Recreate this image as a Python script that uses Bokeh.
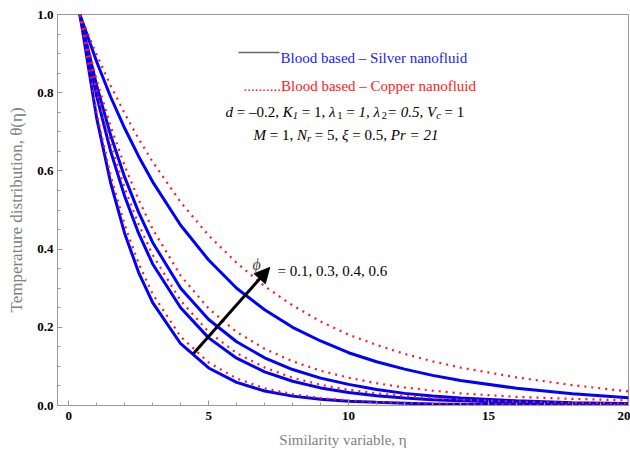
from bokeh.plotting import figure
from bokeh.models import (Range1d, SingleIntervalTicker, Label, Arrow,
                          NormalHead, PrintfTickFormatter)
from bokeh.embed import file_html
from bokeh.resources import INLINE

# ---------------- data ----------------
eta = [0.4, 1, 1.5, 2, 2.5, 3, 4, 5, 6, 7, 8, 9, 10, 11, 12, 13, 14, 16, 18, 20]

silver_phi_01 = [1.0, 0.735, 0.569, 0.440, 0.340, 0.263, 0.158, 0.096, 0.059, 0.037, 0.024, 0.016, 0.011, 0.008, 0.006, 0.004, 0.003, 0.002, 0.001, 0.001]
silver_phi_03 = [1.0, 0.791, 0.650, 0.535, 0.440, 0.362, 0.250, 0.173, 0.121, 0.086, 0.062, 0.045, 0.033, 0.025, 0.019, 0.015, 0.012, 0.008, 0.005, 0.003]
silver_phi_04 = [1.0, 0.818, 0.691, 0.584, 0.494, 0.417, 0.300, 0.220, 0.163, 0.122, 0.092, 0.070, 0.054, 0.041, 0.031, 0.024, 0.019, 0.012, 0.007, 0.005]
silver_phi_06 = [1.0, 0.879, 0.789, 0.709, 0.637, 0.572, 0.461, 0.372, 0.300, 0.245, 0.200, 0.165, 0.135, 0.112, 0.093, 0.077, 0.064, 0.044, 0.030, 0.020]

copper_phi_01 = [1.0, 0.748, 0.588, 0.462, 0.363, 0.285, 0.176, 0.110, 0.069, 0.044, 0.029, 0.019, 0.013, 0.009, 0.007, 0.005, 0.004, 0.002, 0.001, 0.001]
copper_phi_03 = [1.0, 0.802, 0.668, 0.556, 0.463, 0.385, 0.268, 0.188, 0.134, 0.097, 0.071, 0.053, 0.040, 0.031, 0.024, 0.019, 0.015, 0.010, 0.007, 0.005]
copper_phi_04 = [1.0, 0.832, 0.714, 0.613, 0.526, 0.451, 0.332, 0.248, 0.188, 0.145, 0.113, 0.089, 0.071, 0.057, 0.046, 0.038, 0.031, 0.022, 0.017, 0.013]
copper_phi_06 = [1.0, 0.897, 0.818, 0.747, 0.682, 0.623, 0.520, 0.435, 0.365, 0.305, 0.256, 0.215, 0.181, 0.155, 0.132, 0.113, 0.097, 0.072, 0.052, 0.036]

silver_series = [silver_phi_01, silver_phi_03, silver_phi_04, silver_phi_06]
copper_series = [copper_phi_01, copper_phi_03, copper_phi_04, copper_phi_06]

x_tick_interval = 5
y_tick_interval = 0.2

legend_silver = "Blood based \u2013 Silver nanofluid"
legend_copper = "..........Blood based \u2013 Copper nanofluid"
x_label = "Similarity variable, \u03b7"
y_label = "Temperature distribution, \u03b8(\u03b7)"

# arrow showing increasing phi (data units)
arrow_start = (4.46, 0.133)
arrow_end = (7.18, 0.353)

# ---------------- layout ----------------
FONT = "Liberation Serif"
W, H = 630, 453
FL, FR, FT, FB = 57, 628, 14, 405
X0, X1, Y0, Y1 = -0.4, 20.0, 0.0, 1.0


def at(px, py):
    """pixel position of the picture -> data coordinates"""
    return (X0 + (px - FL) * (X1 - X0) / (FR - FL),
            Y0 + (FB - py) * (Y1 - Y0) / (FB - FT))


p = figure(width=W, height=H, x_range=Range1d(X0, X1), y_range=Range1d(Y0, Y1),
           output_backend="svg", toolbar_location=None,
           min_border_left=FL, min_border_right=W - FR,
           min_border_top=FT, min_border_bottom=H - FB)
p.xgrid.visible = False
p.ygrid.visible = False
p.background_fill_color = "white"
p.border_fill_color = "white"
p.outline_line_color = "#9a9a9a"

GRAY = "#9a9a9a"
for ax in (p.xaxis[0], p.yaxis[0]):
    ax.axis_line_color = GRAY
    ax.major_tick_line_color = GRAY
    ax.minor_tick_line_color = GRAY
    ax.major_tick_in = 5
    ax.major_tick_out = 0
    ax.minor_tick_in = 3
    ax.minor_tick_out = 0
    ax.major_label_text_font = FONT
    ax.major_label_text_font_style = "bold"
    ax.major_label_text_font_size = "13px"
    ax.major_label_text_color = "black"
    ax.axis_label_text_font = FONT
    ax.axis_label_text_font_style = "normal"
    ax.axis_label_text_color = "#808080"

p.xaxis.ticker = SingleIntervalTicker(interval=x_tick_interval, num_minor_ticks=5)
p.yaxis.ticker = SingleIntervalTicker(interval=y_tick_interval, num_minor_ticks=4)
p.xaxis.formatter = PrintfTickFormatter(format="%d")
p.yaxis.formatter = PrintfTickFormatter(format="%.1f")
p.xaxis.major_label_standoff = 6
p.yaxis.major_label_standoff = 4
p.xaxis.axis_label = x_label
p.yaxis.axis_label = y_label
p.xaxis.axis_label_text_font_size = "15px"
p.yaxis.axis_label_text_font_size = "17px"
p.xaxis.axis_label_standoff = 9
p.yaxis.axis_label_standoff = 8

# ---------------- curves ----------------
for ys in silver_series:
    p.line(eta, ys, line_color="#0000ff", line_width=3)
for ys in copper_series:
    p.line(eta, ys, line_color="#ff1a1a", line_width=2.2, line_dash="2 5")

# ---------------- annotations ----------------
p.add_layout(Arrow(end=NormalHead(size=15, fill_color="black", line_color="black"),
                   x_start=arrow_start[0], y_start=arrow_start[1],
                   x_end=arrow_end[0], y_end=arrow_end[1],
                   line_color="black", line_width=3))

REG = {' ': 250, '=': 564, '\u2013': 500, '.': 250, ',': 250, 'd': 500, 'K': 722, 'V': 722,
       'M': 889, 'N': 722, 'P': 556, 'r': 333, 'c': 444, '\u03bb': 550, '\u03be': 440, '\u03d5': 600}
ITA = {' ': 250, '=': 675, '\u2013': 500, '.': 250, ',': 250, 'd': 500, 'K': 667, 'V': 611,
       'M': 833, 'N': 667, 'P': 611, 'r': 389, 'c': 444, '\u03bb': 550, '\u03be': 440, '\u03d5': 600}


def text_width(s, italic, size):
    tab = ITA if italic else REG
    return sum(tab.get(ch, 500) for ch in s) * size / 1000.0


def rich(runs, px, py_base, size, color="black"):
    x, y = at(px, py_base)
    off = 0.0
    for s, italic, sub in runs:
        fs = size * 0.7 if sub else size
        lead = len(s) - len(s.lstrip(' '))
        txt = s.strip(' ')
        if txt:
            p.add_layout(Label(x=x, y=y, x_offset=off + text_width(' ' * lead, italic, fs),
                               y_offset=-3.5 if sub else 0, text=txt, text_font=FONT,
                               text_font_size=f"{fs:.1f}px",
                               text_font_style="italic" if italic else "normal",
                               text_color=color, text_baseline="alphabetic", text_align="left"))
        off += text_width(s, italic, fs)


# legend-like texts
kx0, ky = at(238, 52)
kx1, _ = at(279, 52)
p.add_layout(Arrow(end=None, x_start=kx0, y_start=ky, x_end=kx1, y_end=ky,
                   line_color="#666666", line_width=1.5))
rich([(legend_silver, False, False)], 280, 57, 15, color="#1a1aff")
rich([(legend_copper, False, False)], 243, 85, 15, color="#ff1a1a")

rich([("d", True, False), (" = \u20130.2, ", False, False), ("K", True, False), ("1", True, True),
      (" = 1, ", False, False), ("\u03bb", True, False), ("1", False, True), (" = ", False, False),
      ("1, ", True, False), ("\u03bb", True, False), ("2", False, True), ("= 0.5, ", True, False),
      ("V", True, False), ("c", True, True), (" = 1", False, False)], 225, 111, 15)
rich([("M", True, False), (" = 1, ", False, False), ("N", True, False), ("r", True, True),
      (" = 5, ", False, False), ("\u03be", True, False), (" = 0.5, ", False, False),
      ("Pr", True, False), (" = 21", True, False)], 253, 134, 15)

rich([("\u03d5", True, False)], 252, 264, 16, color="#444444")
rich([("= 0.1, 0.3, 0.4, 0.6", False, False)], 277, 270, 15)

open("out.html", "w").write(file_html(p, INLINE))
